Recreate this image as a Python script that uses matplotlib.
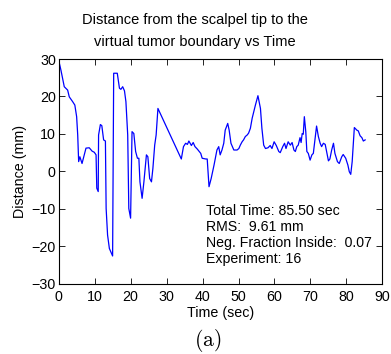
import matplotlib
matplotlib.use("Agg")
import matplotlib.pyplot as plt

plt.rcParams['font.family'] = ['Liberation Sans', 'DejaVu Sans']
plt.rcParams['mathtext.fontset'] = 'cm'

time_s = [0.0, 0.64, 1.1, 1.56, 2.5, 2.95, 3.9, 4.5, 5.0, 5.3, 5.56, 5.9, 6.5, 7.1, 7.6,
          8.5, 9.3, 9.9, 10.4, 10.6, 11.0, 11.1, 11.6, 12.0, 12.5, 13.0, 13.2, 13.6, 14.1,
          15.0, 15.3, 16.3, 16.9, 17.3, 17.8, 18.3, 18.7, 19.2, 19.5, 20.0, 20.4, 20.9,
          21.4, 21.9, 22.3, 22.6, 23.2, 23.7, 24.4, 24.8, 25.3, 25.8, 26.2, 26.7, 27.1,
          27.6, 34.1, 34.7, 35.3, 35.8, 36.2, 36.9, 37.4, 37.9, 38.5, 39.5, 39.9, 40.9,
          41.3, 41.8, 42.4, 43.2, 44.0, 44.5, 44.9, 45.4, 45.9, 46.3, 47.0, 47.4, 47.9,
          48.7, 49.6, 50.1, 50.5, 51.0, 51.4, 51.9, 52.4, 52.8, 53.3, 53.8, 54.7, 55.4,
          56.1, 56.5, 57.0, 57.5, 58.2, 58.8, 59.3, 59.9, 60.5, 61.2, 61.6, 62.3, 62.8,
          63.2, 63.8, 64.4, 64.9, 65.4, 65.8, 66.2, 66.6, 67.1, 67.4, 67.7, 68.0, 68.3,
          68.7, 69.0, 69.4, 69.9, 70.4, 70.8, 71.3, 71.7, 72.2, 72.7, 73.1, 73.6, 74.1,
          74.5, 75.0, 75.4, 75.9, 76.4, 76.8, 77.5, 78.0, 78.7, 79.1, 79.8, 80.4, 80.8,
          81.2, 81.6, 82.2, 82.9, 83.3, 83.8, 84.3, 84.7, 85.2]
distance_mm = [29.7, 27.0, 24.8, 22.6, 21.7, 19.9, 18.6, 17.7, 14.6, 9.7, 2.6, 3.9, 2.1, 4.4, 6.2,
               6.3, 5.4, 5.1, 4.4, -4.5, -5.4, 9.7, 12.5, 12.2, 8.4, 8.1, -9.9, -17.0, -20.6,
               -22.6, 26.2, 26.2, 22.2, 21.9, 22.6, 21.5, 18.6, 9.7, -9.9, -12.5, 10.6, 10.1,
               5.3, 3.5, 3.5, -2.8, -7.2, -2.8, 4.4, 3.9, -1.9, -2.8, 0.8, 7.0, 9.7,
               16.8, 3.3, 6.6, 7.5, 7.2, 8.1, 6.9, 7.7, 6.6, 6.0, 4.8, 3.5, 3.3,
               3.3, -4.1, -1.9, 1.7, 5.7, 6.6, 4.4, 5.7, 7.5, 11.0, 12.8, 11.0, 7.5,
               5.7, 5.7, 6.1, 7.0, 7.9, 8.4, 9.3, 9.7, 10.2, 11.5, 14.2, 17.7, 20.2,
               16.8, 11.5, 7.0, 6.1, 6.3, 6.9, 6.1, 7.9, 6.9, 5.3, 5.0, 6.6, 7.5,
               6.1, 7.9, 7.0, 7.7, 5.7, 5.3, 6.6, 7.0, 9.0, 7.7, 10.1, 9.9, 14.6,
               10.6, 5.3, 4.8, 3.0, 4.4, 4.8, 8.8, 12.1, 9.3, 7.5, 6.6, 7.5, 7.2,
               5.3, 2.8, 3.3, 5.7, 7.5, 4.8, 2.6, 2.1, 3.9, 4.5, 3.5, 1.7, -0.1,
               -0.8, 2.6, 11.7, 11.0, 10.8, 9.5, 9.0, 8.1, 8.4]

x_ticks = [0, 10, 20, 30, 40, 50, 60, 70, 80, 90]
y_ticks = [-30, -20, -10, 0, 10, 20, 30]
title_lines = ["Distance from the scalpel tip to the", "virtual tumor boundary vs Time"]
stats_lines = ["Total Time: 85.50 sec", "RMS:  9.61 mm",
               "Neg. Fraction Inside:  0.07", "Experiment: 16"]

fig = plt.figure(figsize=(3.91, 3.54), dpi=100)
ax = fig.add_axes([0.150, 0.1986, 0.828, 0.6347])
ax.plot(time_s, distance_mm, color='#0000ff', linewidth=0.9)
ax.set_xlim(0, 90)
ax.set_ylim(-30, 30)
ax.set_xticks(x_ticks)
ax.set_yticks(y_ticks)
ax.tick_params(direction='in', length=4, width=0.6, top=True, right=True,
               labelsize=10.3, pad=2)
ax.tick_params(axis='x', pad=4.5)
for s in ax.spines.values():
    s.set_linewidth(0.8)
ax.set_xlabel("Time (sec)", fontsize=10.3, labelpad=1.5)
ax.set_ylabel("Distance (mm)", fontsize=10.3, labelpad=3)

for s, yf in zip(title_lines, [0.9435, 0.881]):
    fig.text(0.4987, yf, s, fontsize=10.5, ha='center', va='center')

text_y = [-10.5, -14.8, -19.1, -23.4]
for s, yv in zip(stats_lines, text_y):
    ax.text(41.0, yv, s, fontsize=10.2, va='center', ha='left')

fig.text(0.53, 0.038, r'$\mathrm{(a)}$', fontsize=15.5, ha='center', va='center')

fig.savefig("out.png", dpi=100)
